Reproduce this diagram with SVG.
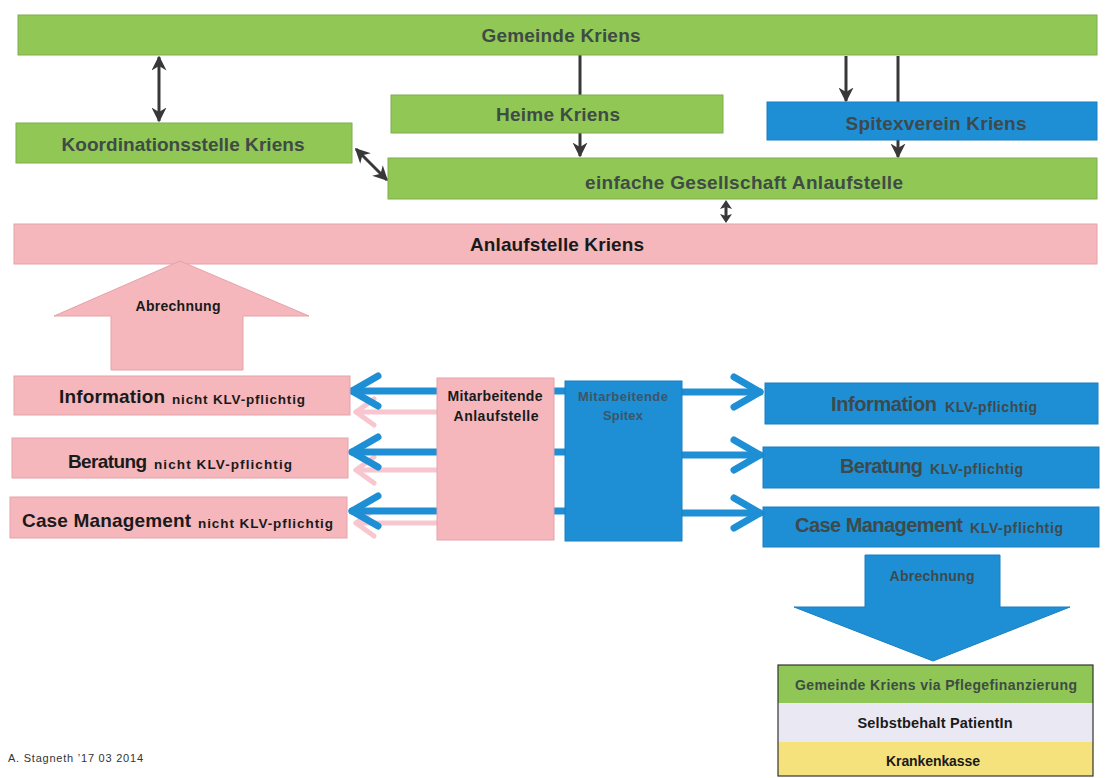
<svg xmlns="http://www.w3.org/2000/svg" width="1107" height="778" viewBox="0 0 1107 778">
<defs>
<style>
.g{fill:#90c755;stroke:#7fae4c;stroke-width:1}
.b{fill:#1e8fd5;stroke:#1a7fc0;stroke-width:1}
.p{fill:#f5b7bc;stroke:#e3a3a9;stroke-width:1}
text{font-family:"Liberation Sans",Arial,sans-serif;font-weight:bold}
.n{font-weight:normal}
.tg{fill:#3f4b45;font-size:19px}
.tb{fill:#3d4a4c;font-size:19px}
.tk{fill:#1a1a1a;font-size:19px}
.dk{stroke:#383838;stroke-width:3;fill:none}
.bl{stroke:#1e8fd5;stroke-width:7;fill:none;stroke-linecap:round;stroke-linejoin:round}
.pk{stroke:#f8c6ce;stroke-width:5;fill:none;stroke-linecap:round;stroke-linejoin:round}
</style>
<marker id="ah" viewBox="0 0 10 10" refX="9" refY="5" markerWidth="5" markerHeight="5" orient="auto-start-reverse" markerUnits="strokeWidth">
<path d="M0,0 L10,5 L0,10 L3,5 z" fill="#383838"/>
</marker>
</defs>
<rect width="1107" height="778" fill="#ffffff"/>

<g id="connectors">
<line class="dk" x1="159" y1="57" x2="159" y2="121" marker-start="url(#ah)" marker-end="url(#ah)"/>
<line class="dk" x1="356" y1="149" x2="387" y2="180" marker-start="url(#ah)" marker-end="url(#ah)"/>
<line class="dk" x1="580" y1="54" x2="580" y2="156" marker-end="url(#ah)"/>
<line class="dk" x1="846" y1="56" x2="846" y2="101" marker-end="url(#ah)"/>
<line class="dk" x1="898" y1="56" x2="898" y2="157" marker-end="url(#ah)"/>
<line class="dk" x1="726" y1="206" x2="726" y2="217"/>
<path d="M726,200 L732,209 L726,207 L720,209 z M726,223 L732,214 L726,216 L720,214 z" fill="#383838"/>
<g class="pk">
<line x1="440" y1="412" x2="356" y2="412"/><polyline points="374,399 356,412 374,425"/>
<line x1="440" y1="470" x2="356" y2="470"/><polyline points="374,457 356,470 374,483"/>
<line x1="440" y1="523" x2="356" y2="523"/><polyline points="374,510 356,523 374,536"/>
</g>
<g class="bl">
<line x1="570" y1="391" x2="352" y2="391"/><polyline points="378,376 352,391 378,406"/>
<line x1="570" y1="452" x2="352" y2="452"/><polyline points="378,437 352,452 378,467"/>
<line x1="570" y1="511" x2="352" y2="511"/><polyline points="378,496 352,511 378,526"/>
</g>
<g class="bl">
<line x1="680" y1="392" x2="760" y2="392"/><polyline points="734,377 760,392 734,407"/>
<line x1="680" y1="455" x2="760" y2="455"/><polyline points="734,440 760,455 734,470"/>
<line x1="680" y1="513" x2="760" y2="513"/><polyline points="734,498 760,513 734,528"/>
</g>
</g>

<g id="gemeinde-kriens">
<rect class="g" x="18" y="15" width="1079" height="40"/>
<text class="tg" x="561" y="42" text-anchor="middle" textLength="159">Gemeinde Kriens</text>
</g>
<g id="heime-kriens">
<rect class="g" x="391" y="95" width="332" height="38"/>
<text class="tg" x="558" y="121" text-anchor="middle" textLength="124">Heime Kriens</text>
</g>
<g id="spitexverein-kriens">
<rect class="b" x="767" y="102" width="330" height="38"/>
<text class="tb" x="936" y="130" text-anchor="middle" textLength="181">Spitexverein Kriens</text>
</g>
<g id="koordinationsstelle-kriens">
<rect class="g" x="16" y="123" width="336" height="40"/>
<text class="tg" x="183" y="151" text-anchor="middle" textLength="243">Koordinationsstelle Kriens</text>
</g>
<g id="einfache-gesellschaft">
<rect class="g" x="388" y="158" width="709" height="41"/>
<text class="tg" x="744" y="189" text-anchor="middle" textLength="318">einfache Gesellschaft Anlaufstelle</text>
</g>
<g id="anlaufstelle-kriens">
<rect class="p" x="14" y="224" width="1083" height="40"/>
<text class="tk" x="557" y="251" text-anchor="middle" textLength="174">Anlaufstelle Kriens</text>
</g>

<g id="abrechnung-up">
<polygon class="p" points="180,261 309,316 243,316 243,370 111,370 111,316 54,316"/>
<text x="178" y="311" text-anchor="middle" fill="#1a1a1a" font-size="14" textLength="85">Abrechnung</text>
</g>

<g id="information-nicht">
<rect class="p" x="14" y="376" width="336" height="39"/>
<text x="59" y="403" fill="#1a1a1a" font-size="19" textLength="106">Information</text>
<text x="172" y="404" fill="#1a1a1a" font-size="13.5" textLength="133">nicht KLV-pflichtig</text>
</g>
<g id="beratung-nicht">
<rect class="p" x="12" y="438" width="336" height="40"/>
<text x="68" y="468" fill="#1a1a1a" font-size="19" textLength="79">Beratung</text>
<text x="154" y="469" fill="#1a1a1a" font-size="13.5" textLength="138">nicht KLV-pflichtig</text>
</g>
<g id="case-management-nicht">
<rect class="p" x="10" y="497" width="337" height="41"/>
<text x="22" y="527" fill="#1a1a1a" font-size="19" textLength="169">Case Management</text>
<text x="198" y="528" fill="#1a1a1a" font-size="13.5" textLength="135">nicht KLV-pflichtig</text>
</g>

<g id="mitarbeitende-anlaufstelle">
<rect class="p" x="437" y="378" width="117" height="162"/>
<text x="495" y="401" text-anchor="middle" fill="#1a1a1a" font-size="14" textLength="95">Mitarbeitende</text>
<text x="496" y="421" text-anchor="middle" fill="#1a1a1a" font-size="14" textLength="85">Anlaufstelle</text>
</g>
<g id="mitarbeitende-spitex">
<rect class="b" x="565" y="381" width="117" height="160"/>
<text x="623" y="401" text-anchor="middle" fill="#3d5566" font-size="13" textLength="90">Mitarbeitende</text>
<text x="623" y="420" text-anchor="middle" fill="#3d5566" font-size="13" textLength="40">Spitex</text>
</g>

<g id="information-klv">
<rect class="b" x="765" y="383" width="333" height="41"/>
<text x="831" y="411" fill="#3d4a4c" font-size="20" textLength="106">Information</text>
<text x="945" y="412" fill="#3d4a4c" font-size="14" textLength="92">KLV-pflichtig</text>
</g>
<g id="beratung-klv">
<rect class="b" x="763" y="447" width="336" height="41"/>
<text x="840" y="473" fill="#3d4a4c" font-size="20" textLength="83">Beratung</text>
<text x="930" y="474" fill="#3d4a4c" font-size="14" textLength="93">KLV-pflichtig</text>
</g>
<g id="case-management-klv">
<rect class="b" x="763" y="507" width="336" height="40"/>
<text x="795" y="532" fill="#3d4a4c" font-size="20" textLength="168">Case Management</text>
<text x="970" y="533" fill="#3d4a4c" font-size="14" textLength="93">KLV-pflichtig</text>
</g>

<g id="abrechnung-down">
<polygon class="b" points="865,555 1000,555 1000,607 1070,607 933,661 794,607 865,607"/>
<text x="932" y="581" text-anchor="middle" fill="#3d4a4c" font-size="14" textLength="85">Abrechnung</text>
</g>

<g id="finanzierung">
<rect x="778" y="665" width="315" height="38" fill="#8fc655"/>
<rect x="778" y="703" width="315" height="39" fill="#e9e8f3"/>
<rect x="778" y="742" width="315" height="34" fill="#f6e27c"/>
<rect x="778" y="665" width="315" height="111" fill="none" stroke="#333" stroke-width="1.2"/>
<text x="936" y="690" text-anchor="middle" fill="#3f4b45" font-size="14" textLength="282">Gemeinde Kriens via Pflegefinanzierung</text>
<text x="935" y="728" text-anchor="middle" fill="#1a1a1a" font-size="14.5" textLength="155">Selbstbehalt PatientIn</text>
<text x="933" y="766" text-anchor="middle" fill="#1a1a1a" font-size="14" textLength="94">Krankenkasse</text>
</g>

<text class="n" x="8" y="762" fill="#333" font-size="11" textLength="135">A. Stagneth ’17 03 2014</text>
</svg>
